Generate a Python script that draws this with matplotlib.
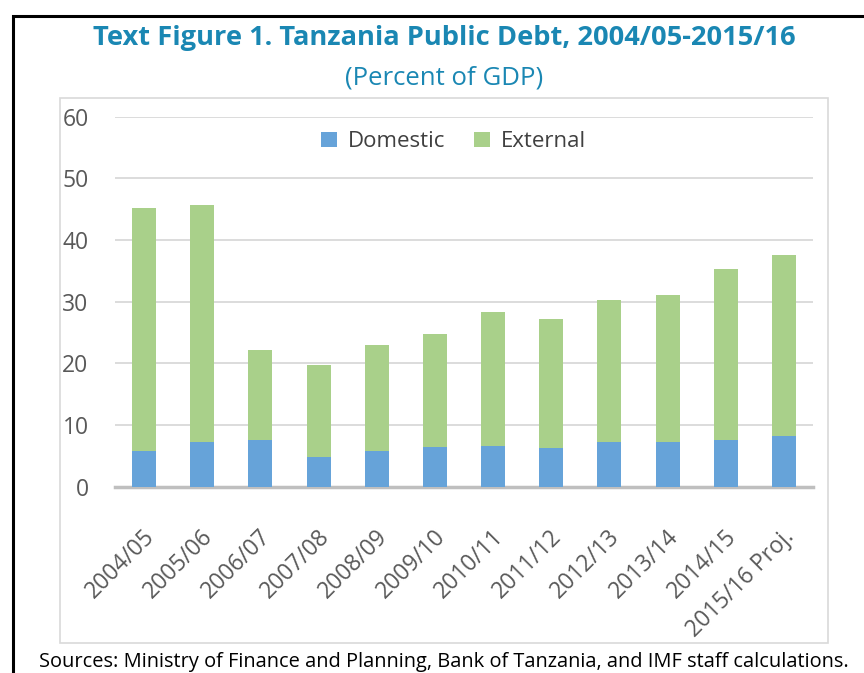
import matplotlib
matplotlib.use("Agg")
import matplotlib.pyplot as plt
from matplotlib.patches import Rectangle
from matplotlib.transforms import ScaledTranslation
import numpy as np

plt.rcParams['font.family'] = ['Open Sans', 'DejaVu Sans']

years = ["2004/05", "2005/06", "2006/07", "2007/08", "2008/09", "2009/10",
         "2010/11", "2011/12", "2012/13", "2013/14", "2014/15", "2015/16 Proj."]
domestic = [5.8, 7.3, 7.6, 4.8, 5.8, 6.5, 6.6, 6.2, 7.3, 7.3, 7.6, 8.3]
external = [39.4, 38.3, 14.6, 14.9, 17.1, 18.2, 21.7, 21.0, 23.0, 23.8, 27.7, 29.2]

W, H = 864, 673
fig = plt.figure(figsize=(W / 100, H / 100), dpi=100)

# outer black frame (cut off at right/bottom like the source)
fig.patches.append(Rectangle((13 / W, -0.05), 1.0, 1 - 16 / H + 0.05, transform=fig.transFigure,
                             fill=False, edgecolor='black', linewidth=2.2))
# inner chart box
fig.patches.append(Rectangle((60 / W, 1 - 643 / H), (828 - 60) / W, (643 - 98) / H,
                             transform=fig.transFigure, fill=False, edgecolor='#d9d9d9', linewidth=1.2))

cx = 444 / W
fig.text(cx, 1 - 38 / H, "Text Figure 1. Tanzania Public Debt, 2004/05-2015/16",
         ha='center', va='center', fontsize=19.6, fontweight='bold', color='#1a87b3')
fig.text(cx, 1 - 78 / H, "(Percent of GDP)", ha='center', va='center',
         fontsize=18.5, color='#1a87b3')
fig.text(cx, 1 - 662 / H,
         "Sources: Ministry of Finance and Planning, Bank of Tanzania, and IMF staff calculations.",
         ha='center', va='center', fontsize=14.4, color='black')

ax = fig.add_axes([115 / W, 1 - 486.7 / H, (813 - 115) / W, (486.7 - 116.7) / H])
x = np.arange(len(years))
ax.bar(x, domestic, width=0.41, color='#66a3d9', label='Domestic', zorder=3)
ax.bar(x, external, width=0.41, bottom=domestic, color='#a9d08a', label='External', zorder=3)

ax.set_xlim(-0.5, len(years) - 0.5)
ax.set_ylim(0, 60)
ax.set_yticks(range(0, 61, 10))
ax.yaxis.grid(True, color='#d9d9d9', linewidth=1.3, zorder=0)
ax.set_axisbelow(True)
for s in ['top', 'right', 'left']:
    ax.spines[s].set_visible(False)
ax.spines['bottom'].set_color('#bfbfbf')
ax.spines['bottom'].set_linewidth(2.5)
ax.tick_params(axis='both', length=0, colors='#595959')
ax.tick_params(axis='y', pad=19, labelsize=16.5)
ax.set_xticks(x)
ax.set_xticklabels(years, rotation=45, ha='right', va='center', rotation_mode='anchor', fontsize=16.5)
ax.tick_params(axis='x', pad=30)
# nudge rotated labels a little right/down like the excel original
shift = ScaledTranslation(7 / 100, -5 / 100, fig.dpi_scale_trans)
for lab in ax.get_xticklabels():
    lab.set_transform(lab.get_transform() + shift)

ax.legend(loc='upper center', bbox_to_anchor=(0.485, 1.015), ncol=2, frameon=False,
          fontsize=16, handlelength=0.7, handleheight=0.7, columnspacing=1.3,
          handletextpad=0.5, labelcolor='#404040')

fig.savefig("out.png", dpi=100)
